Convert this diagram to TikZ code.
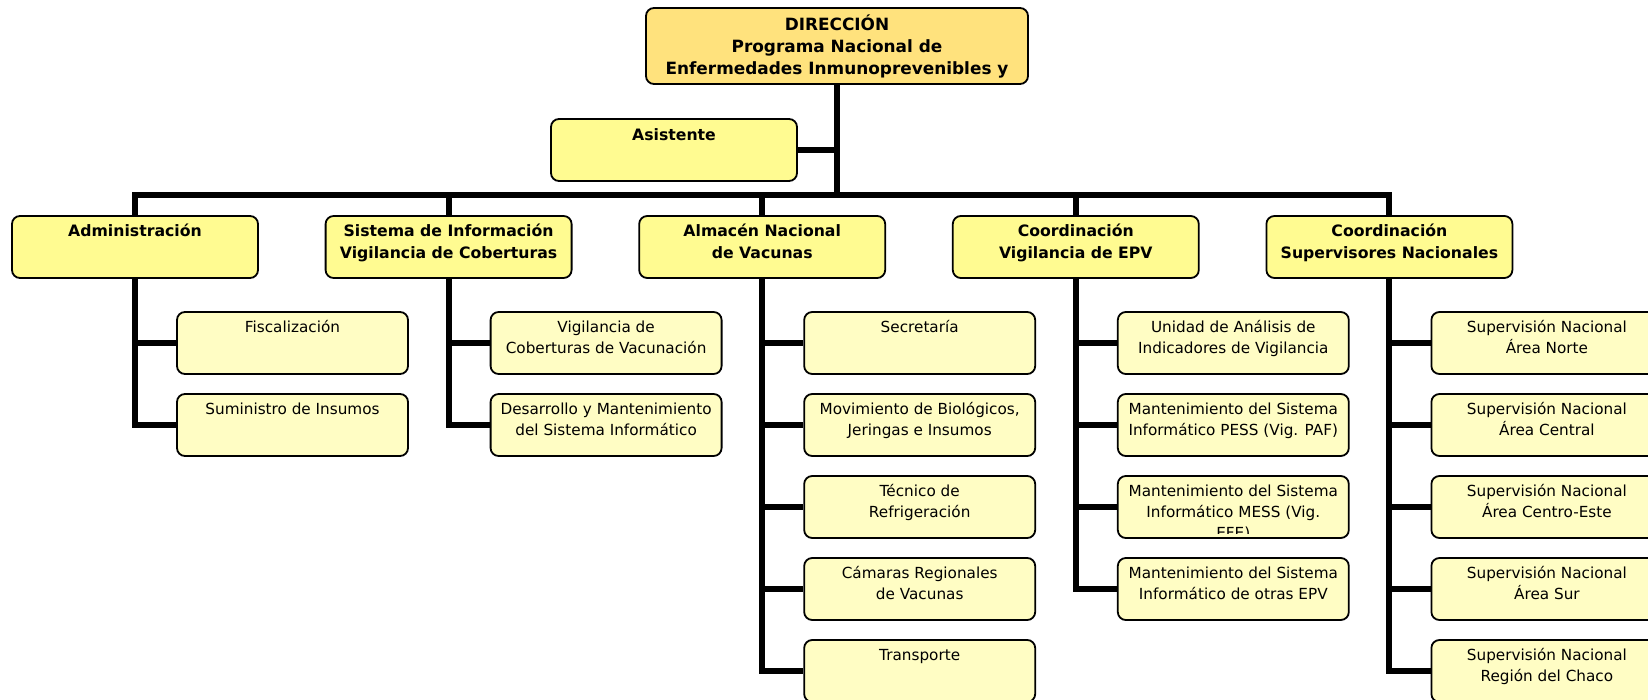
\documentclass[tikz,border=0pt]{standalone}
\usepackage{fontspec}
\setmainfont{DejaVu Sans}
\definecolor{dirfill}{HTML}{FFE27D}
\definecolor{headfill}{HTML}{FFFB91}
\definecolor{subfill}{HTML}{FFFDC4}
\newcommand\drfont{\fontsize{16.9}{21.7}\selectfont\bfseries}
\newcommand\hdfont{\fontsize{15.7}{21.7}\selectfont\bfseries}
\newcommand\sbfont{\fontsize{15.25}{21}\selectfont}
\tikzset{
  orgbox/.style={draw=black, line width=1.8pt, rounded corners=8pt, inner sep=0pt},
  dirbox/.style={orgbox, fill=dirfill, minimum width=382pt, minimum height=76pt},
  headbox/.style={orgbox, fill=headfill, minimum width=246pt, minimum height=62pt},
  subbox/.style={orgbox, fill=subfill, minimum width=231pt, minimum height=62pt},
  drtext/.style={inner sep=0pt, align=center, font=\drfont, anchor=north},
  hdtext/.style={inner sep=0pt, align=center, font=\hdfont, anchor=north},
  sbtext/.style={inner sep=0pt, align=center, font=\sbfont, anchor=north},
  conn/.style={line width=6pt, line join=miter},
}
\begin{document}
\begin{tikzpicture}[x=1pt,y=-1pt]
\clip (0,0) rectangle (1648,700);
\fill[white] (0,0) rectangle (1648,700);

% ---- nodes (boxes) ----
\node[dirbox] (dir) at (837,46) {};
\node[headbox] (asis) at (674,150) {};

\node[headbox] (h1) at (135,247) {};
\node[headbox] (h2) at (448.6,247) {};
\node[headbox] (h3) at (762.2,247) {};
\node[headbox] (h4) at (1075.8,247) {};
\node[headbox] (h5) at (1389.4,247) {};

\node[subbox] (a1) at (292.5,343) {};
\node[subbox] (a2) at (292.5,425) {};
\node[subbox] (b1) at (606.1,343) {};
\node[subbox] (b2) at (606.1,425) {};
\node[subbox] (c1) at (919.7,343) {};
\node[subbox] (c2) at (919.7,425) {};
\node[subbox] (c3) at (919.7,507) {};
\node[subbox] (c4) at (919.7,589) {};
\node[subbox] (c5) at (919.7,671) {};
\node[subbox] (e1) at (1233.3,343) {};
\node[subbox] (e2) at (1233.3,425) {};
\node[subbox] (e3) at (1233.3,507) {};
\node[subbox] (e4) at (1233.3,589) {};
\node[subbox] (f1) at (1546.9,343) {};
\node[subbox] (f2) at (1546.9,425) {};
\node[subbox] (f3) at (1546.9,507) {};
\node[subbox] (f4) at (1546.9,589) {};
\node[subbox] (f5) at (1546.9,671) {};

% ---- connectors ----
\coordinate (busL) at (135,195);
\coordinate (busR) at (1389.4,195);
\draw[conn] (dir.south) -- (dir.south |- busL);
\draw[conn] (asis.east) -- (asis.east -| dir.south);
\draw[conn] (h1.north) -- (busL) -- (busR) -- (h5.north);
\draw[conn] (h2.north) -- (h2.north |- busL);
\draw[conn] (h3.north) -- (h3.north |- busL);
\draw[conn] (h4.north) -- (h4.north |- busL);

\draw[conn] (h1.south) -- (h1.south |- a2.west) -- (a2.west);
\draw[conn] (h1.south |- a1.west) -- (a1.west);

\draw[conn] (h2.south) -- (h2.south |- b2.west) -- (b2.west);
\draw[conn] (h2.south |- b1.west) -- (b1.west);

\draw[conn] (h3.south) -- (h3.south |- c5.west) -- (c5.west);
\draw[conn] (h3.south |- c1.west) -- (c1.west);
\draw[conn] (h3.south |- c2.west) -- (c2.west);
\draw[conn] (h3.south |- c3.west) -- (c3.west);
\draw[conn] (h3.south |- c4.west) -- (c4.west);

\draw[conn] (h4.south) -- (h4.south |- e4.west) -- (e4.west);
\draw[conn] (h4.south |- e1.west) -- (e1.west);
\draw[conn] (h4.south |- e2.west) -- (e2.west);
\draw[conn] (h4.south |- e3.west) -- (e3.west);

\draw[conn] (h5.south) -- (h5.south |- f5.west) -- (f5.west);
\draw[conn] (h5.south |- f1.west) -- (f1.west);
\draw[conn] (h5.south |- f2.west) -- (f2.west);
\draw[conn] (h5.south |- f3.west) -- (f3.west);
\draw[conn] (h5.south |- f4.west) -- (f4.west);

% ---- texts ----
\node[drtext] (dirt) at ([yshift=-8pt]dir.north) {\strut DIRECCIÓN\\Programa Nacional de\\Enfermedades Inmunoprevenibles y};
\node[hdtext] (asist) at ([yshift=-7pt]asis.north) {\strut Asistente};
\node[hdtext] (h1t) at ([yshift=-6.5pt]h1.north) {\strut Administración};
\node[hdtext] (h2t) at ([yshift=-6.5pt]h2.north) {\strut Sistema de Información\\Vigilancia de Coberturas};
\node[hdtext] (h3t) at ([yshift=-6.5pt]h3.north) {\strut Almacén Nacional\\de Vacunas};
\node[hdtext] (h4t) at ([yshift=-6.5pt]h4.north) {\strut Coordinación\\Vigilancia de EPV};
\node[hdtext] (h5t) at ([yshift=-6.5pt]h5.north) {\strut Coordinación\\Supervisores Nacionales};

\node[sbtext] (a1t) at ([yshift=-6.5pt]a1.north) {\strut Fiscalización};
\node[sbtext] (a2t) at ([yshift=-6.5pt]a2.north) {\strut Suministro de Insumos};
\node[sbtext] (b1t) at ([yshift=-6.5pt]b1.north) {\strut Vigilancia de\\Coberturas de Vacunación};
\node[sbtext] (b2t) at ([yshift=-6.5pt]b2.north) {\strut Desarrollo y Mantenimiento\\del Sistema Informático};
\node[sbtext] (c1t) at ([yshift=-6.5pt]c1.north) {\strut Secretaría};
\node[sbtext] (c2t) at ([yshift=-6.5pt]c2.north) {\strut Movimiento de Biológicos,\\Jeringas e Insumos};
\node[sbtext] (c3t) at ([yshift=-6.5pt]c3.north) {\strut Técnico de\\Refrigeración};
\node[sbtext] (c4t) at ([yshift=-6.5pt]c4.north) {\strut Cámaras Regionales\\de Vacunas};
\node[sbtext] (c5t) at ([yshift=-6.5pt]c5.north) {\strut Transporte};
\node[sbtext] (e1t) at ([yshift=-6.5pt]e1.north) {\strut Unidad de Análisis de\\Indicadores de Vigilancia};
\node[sbtext] (e2t) at ([yshift=-6.5pt]e2.north) {\strut Mantenimiento del Sistema\\Informático PESS (Vig. PAF)};
\begin{scope}
\clip (e3.north west) rectangle ([yshift=5pt]e3.south east);
\node[sbtext] (e3t) at ([yshift=-6.5pt]e3.north) {\strut Mantenimiento del Sistema\\Informático MESS (Vig.\\EFE)};
\end{scope}
\node[sbtext] (e4t) at ([yshift=-6.5pt]e4.north) {\strut Mantenimiento del Sistema\\Informático de otras EPV};
\node[sbtext] (f1t) at ([yshift=-6.5pt]f1.north) {\strut Supervisión Nacional\\Área Norte};
\node[sbtext] (f2t) at ([yshift=-6.5pt]f2.north) {\strut Supervisión Nacional\\Área Central};
\node[sbtext] (f3t) at ([yshift=-6.5pt]f3.north) {\strut Supervisión Nacional\\Área Centro-Este};
\node[sbtext] (f4t) at ([yshift=-6.5pt]f4.north) {\strut Supervisión Nacional\\Área Sur};
\node[sbtext] (f5t) at ([yshift=-6.5pt]f5.north) {\strut Supervisión Nacional\\Región del Chaco};
\end{tikzpicture}
\end{document}
